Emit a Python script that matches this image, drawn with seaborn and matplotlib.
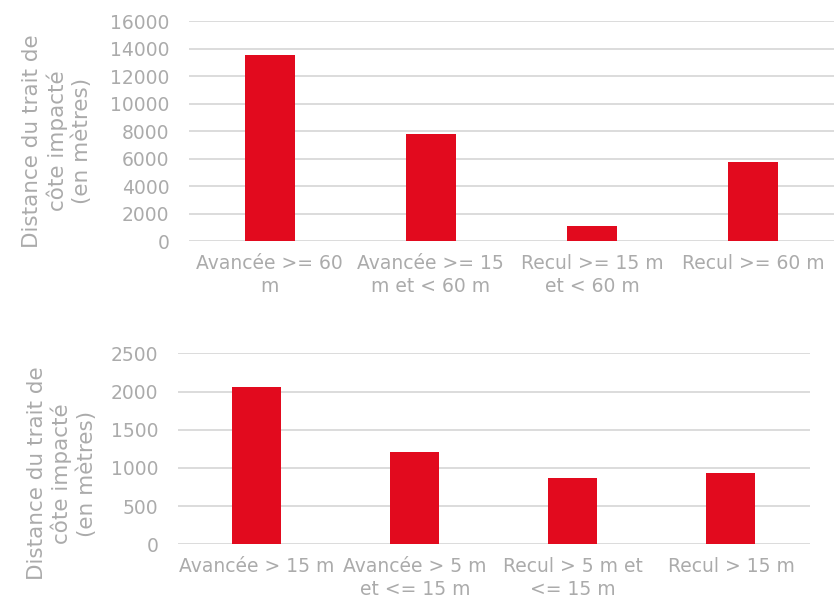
import matplotlib
matplotlib.use('Agg')
import matplotlib.pyplot as plt
import seaborn as sns
import pandas as pd

# Données
cat_haut = ['Avancée >= 60\nm', 'Avancée >= 15\nm et < 60 m', 'Recul >= 15 m\net < 60 m', 'Recul >= 60 m']
val_haut = [13530, 7800, 1090, 5770]

cat_bas = ['Avancée > 15 m', 'Avancée > 5 m\net <= 15 m', 'Recul > 5 m et\n<= 15 m', 'Recul > 15 m']
val_bas = [2055, 1212, 864, 937]

ylabel = 'Distance du trait de\ncôte impacté\n(en mètres)'

sns.set_theme(style="white")
plt.rcParams['font.family'] = ['DejaVu Sans']

gris = '#ababab'
rouge = '#e20a1e'

fig = plt.figure(figsize=(8.34, 6.06), dpi=100)
ax1 = fig.add_axes([0.2266, 0.6023, 0.7734, 0.363])
ax2 = fig.add_axes([0.2134, 0.1018, 0.7578, 0.3152])

def tracer(ax, cats, vals, ymax, step, lab_x, lab_y):
    df = pd.DataFrame({'cat': cats, 'val': vals})
    sns.barplot(data=df, x='cat', y='val', color=rouge, width=0.31, ax=ax,
                saturation=1, edgecolor='none')
    ax.set_ylim(0, ymax)
    ax.set_yticks(range(0, ymax + 1, step))
    ax.set_xlim(-0.5, 3.5)
    ax.yaxis.grid(True, color='#d9d9d9', linewidth=1.3)
    ax.set_axisbelow(True)
    for s in ax.spines.values():
        s.set_visible(False)
    ax.tick_params(axis='y', labelsize=13.5, labelcolor=gris, length=0, pad=14)
    ax.tick_params(axis='x', labelsize=13.5, labelcolor=gris, length=0, pad=9)
    for t in ax.get_xticklabels():
        t.set_linespacing(1.3)
    ax.set_xlabel('')
    ax.set_ylabel(ylabel, fontsize=15.5, color=gris, linespacing=1.25)
    ax.yaxis.set_label_coords(lab_x, lab_y)

tracer(ax1, cat_haut, val_haut, 16000, 2000, -0.150, 0.455)
tracer(ax2, cat_bas, val_bas, 2500, 500, -0.128, 0.37)

fig.savefig('out.png', dpi=100)
